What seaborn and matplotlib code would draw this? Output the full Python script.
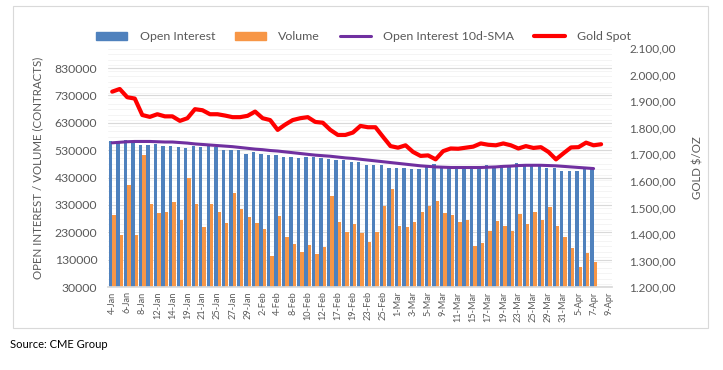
import numpy as np
import pandas as pd
import matplotlib
matplotlib.use("Agg")
import matplotlib.pyplot as plt
import seaborn as sns
from matplotlib.patches import Patch, Rectangle
from matplotlib.lines import Line2D
from matplotlib.ticker import FuncFormatter, MultipleLocator

sns.set_theme(style="white")
plt.rcParams["font.family"] = ["Lato", "DejaVu Sans"]

# trading days shown on the axis (8-Apr and 9-Apr have no bars)
dates = [
    "4-Jan", "5-Jan", "6-Jan", "7-Jan", "8-Jan", "11-Jan", "12-Jan", "13-Jan", "14-Jan", "15-Jan",
    "19-Jan", "20-Jan", "21-Jan", "22-Jan", "25-Jan", "26-Jan", "27-Jan", "28-Jan", "29-Jan",
    "1-Feb", "2-Feb", "3-Feb", "4-Feb", "5-Feb", "8-Feb", "9-Feb", "10-Feb", "11-Feb", "12-Feb",
    "16-Feb", "17-Feb", "18-Feb", "19-Feb", "22-Feb", "23-Feb", "24-Feb", "25-Feb", "26-Feb",
    "1-Mar", "2-Mar", "3-Mar", "4-Mar", "5-Mar", "8-Mar", "9-Mar", "10-Mar", "11-Mar", "12-Mar",
    "15-Mar", "16-Mar", "17-Mar", "18-Mar", "19-Mar", "22-Mar", "23-Mar", "24-Mar", "25-Mar",
    "26-Mar", "29-Mar", "30-Mar", "31-Mar", "1-Apr", "5-Apr", "6-Apr", "7-Apr", "8-Apr", "9-Apr",
]

open_interest = [
    563000, 560000, 568000, 560000, 549000, 549000, 552000, 545000, 545000, 541000,
    538000, 545000, 541000, 545000, 541000, 532000, 532000, 532000, 516000, 523000,
    516000, 512000, 512000, 505000, 505000, 501000, 505000, 505000, 501000, 498000,
    494000, 494000, 487000, 487000, 476000, 476000, 476000, 465000, 465000, 465000,
    461000, 461000, 468000, 479000, 468000, 465000, 465000, 465000, 465000, 468000,
    476000, 470000, 476000, 476000, 483000, 479000, 472000, 472000, 465000, 465000,
    454000, 454000, 454000, 461000, 461000,
]

volume = [
    294000, 219000, 404000, 219000, 511000, 333000, 300000, 304000, 340000, 274000,
    428000, 333000, 249000, 333000, 304000, 264000, 373000, 315000, 286000, 264000,
    242000, 143000, 289000, 213000, 187000, 159000, 183000, 151000, 176000, 362000,
    267000, 231000, 260000, 227000, 194000, 231000, 326000, 388000, 253000, 249000,
    267000, 304000, 326000, 344000, 300000, 293000, 267000, 275000, 180000, 191000,
    235000, 271000, 253000, 235000, 297000, 260000, 304000, 275000, 322000, 253000,
    213000, 172000, 103000, 154000, 121000,
]

oi_sma = [
    557000, 559000, 561000, 562000, 562000, 562000, 561000, 560000, 560000, 558000,
    556000, 553000, 551000, 549000, 547000, 545000, 543000, 540000, 537000, 534000,
    532000, 529000, 527000, 524000, 521000, 518000, 515000, 512000, 510000, 508000,
    505000, 502000, 500000, 497000, 494000, 491000, 488000, 485000, 482000, 479000,
    476000, 473000, 471000, 469000, 468000, 467000, 467000, 467000, 467000, 467000,
    468000, 469000, 471000, 472000, 474000, 475000, 475000, 475000, 474000, 473000,
    471000, 469000, 467000, 465000, 463000,
]

gold_spot = [
    1936, 1946, 1915, 1910, 1848, 1841, 1851, 1843, 1843, 1826,
    1836, 1870, 1866, 1851, 1851, 1846, 1840, 1840, 1845, 1861,
    1836, 1829, 1792, 1812, 1829, 1836, 1840, 1822, 1819, 1792,
    1773, 1773, 1782, 1807, 1802, 1802, 1766, 1731, 1725, 1734,
    1709, 1694, 1696, 1681, 1712, 1722, 1721, 1725, 1729, 1741,
    1736, 1734, 1741, 1734, 1722, 1731, 1724, 1727, 1709, 1681,
    1704, 1726, 1727, 1744, 1734, 1738,
]

BLUE = "#4f81bd"
ORANGE = "#f79646"
PURPLE = "#7030a0"
RED = "#ff0000"
GREY_TXT = "#595959"

n = len(open_interest)
bars = pd.DataFrame({
    "date": dates[:n] * 2,
    "serie": ["Open Interest"] * n + ["Volume"] * n,
    "valor": open_interest + volume,
})

fig = plt.figure(figsize=(7.23, 3.70), dpi=100)
ax = fig.add_axes([0.150, 0.224, 0.697, 0.646])

sns.barplot(data=bars, x="date", y="valor", hue="serie", order=dates,
            hue_order=["Open Interest", "Volume"], palette=[BLUE, ORANGE],
            width=0.9, gap=0, saturation=1, legend=False, linewidth=0,
            edgecolor="none", ax=ax)
sns.lineplot(x=np.arange(len(oi_sma)), y=oi_sma, color=PURPLE, lw=2.2, ax=ax)

ax.set_xlim(-0.5, len(dates) - 0.5)
ax.set_ylim(30000, 903000)
ax.yaxis.set_minor_locator(MultipleLocator(20000))
ax.set_yticks(np.arange(30000, 900000, 100000))
ax.grid(axis="y", which="major", color="#d9d9d9", lw=0.8)
ax.grid(axis="y", which="minor", color="#f2f2f2", lw=0.6)
ax.set_axisbelow(True)

ax.set_xticks(np.arange(0, len(dates), 2))
ax.set_xticklabels(dates[::2], rotation=90, fontsize=6.6, color=GREY_TXT)
ax.set_xticks(np.arange(-0.5, len(dates), 1), minor=True)
ax.tick_params(axis="x", which="major", length=0, pad=3)
ax.tick_params(axis="x", which="minor", length=3, color="#bfbfbf", width=0.6)
ax.tick_params(axis="y", which="both", length=0, labelsize=8.8, labelcolor=GREY_TXT, pad=8)
ax.set_xlabel("")
ax.set_ylabel("OPEN INTEREST / VOLUME (CONTRACTS)", fontsize=8.3, color=GREY_TXT, labelpad=8)
for s in ["top", "left", "right"]:
    ax.spines[s].set_visible(False)
ax.spines["bottom"].set_color("#d9d9d9")

ax2 = ax.twinx()
sns.lineplot(x=np.arange(len(gold_spot)), y=gold_spot, color=RED, lw=3, ax=ax2)
ax2.set_ylim(1200, 2100)
ax2.set_yticks(np.arange(1200, 2101, 100))
ax2.yaxis.set_major_formatter(FuncFormatter(
    lambda v, p: f"{v:,.2f}".replace(",", "X").replace(".", ",").replace("X", ".")))
ax2.tick_params(axis="y", length=0, labelsize=8.5, labelcolor=GREY_TXT, pad=12)
ax2.set_ylabel("GOLD $/OZ", fontsize=8.3, color=GREY_TXT, labelpad=12)
for s in ["top", "left", "right", "bottom"]:
    ax2.spines[s].set_visible(False)

handles = [
    Patch(color=BLUE, label="Open Interest"),
    Patch(color=ORANGE, label="Volume"),
    Line2D([], [], color=PURPLE, lw=2.2, label="Open Interest 10d-SMA"),
    Line2D([], [], color=RED, lw=3, label="Gold Spot"),
]
leg = fig.legend(handles=handles, loc="center", bbox_to_anchor=(0.503, 0.9), ncol=4,
                 frameon=False, fontsize=8.9, handlelength=2.5, handleheight=0.6,
                 columnspacing=1.6, handletextpad=1.0)
for t in leg.get_texts():
    t.set_color(GREY_TXT)

fig.patches.append(Rectangle((13 / 723, 1 - 328 / 370), (708 - 13) / 723, (328 - 6) / 370,
                             transform=fig.transFigure, fill=False, ec="#d9d9d9", lw=0.8))
fig.text(10 / 723, 1 - 345 / 370, "Source: CME Group", fontsize=8, color="black", va="center")

fig.savefig("out.png", dpi=100)
